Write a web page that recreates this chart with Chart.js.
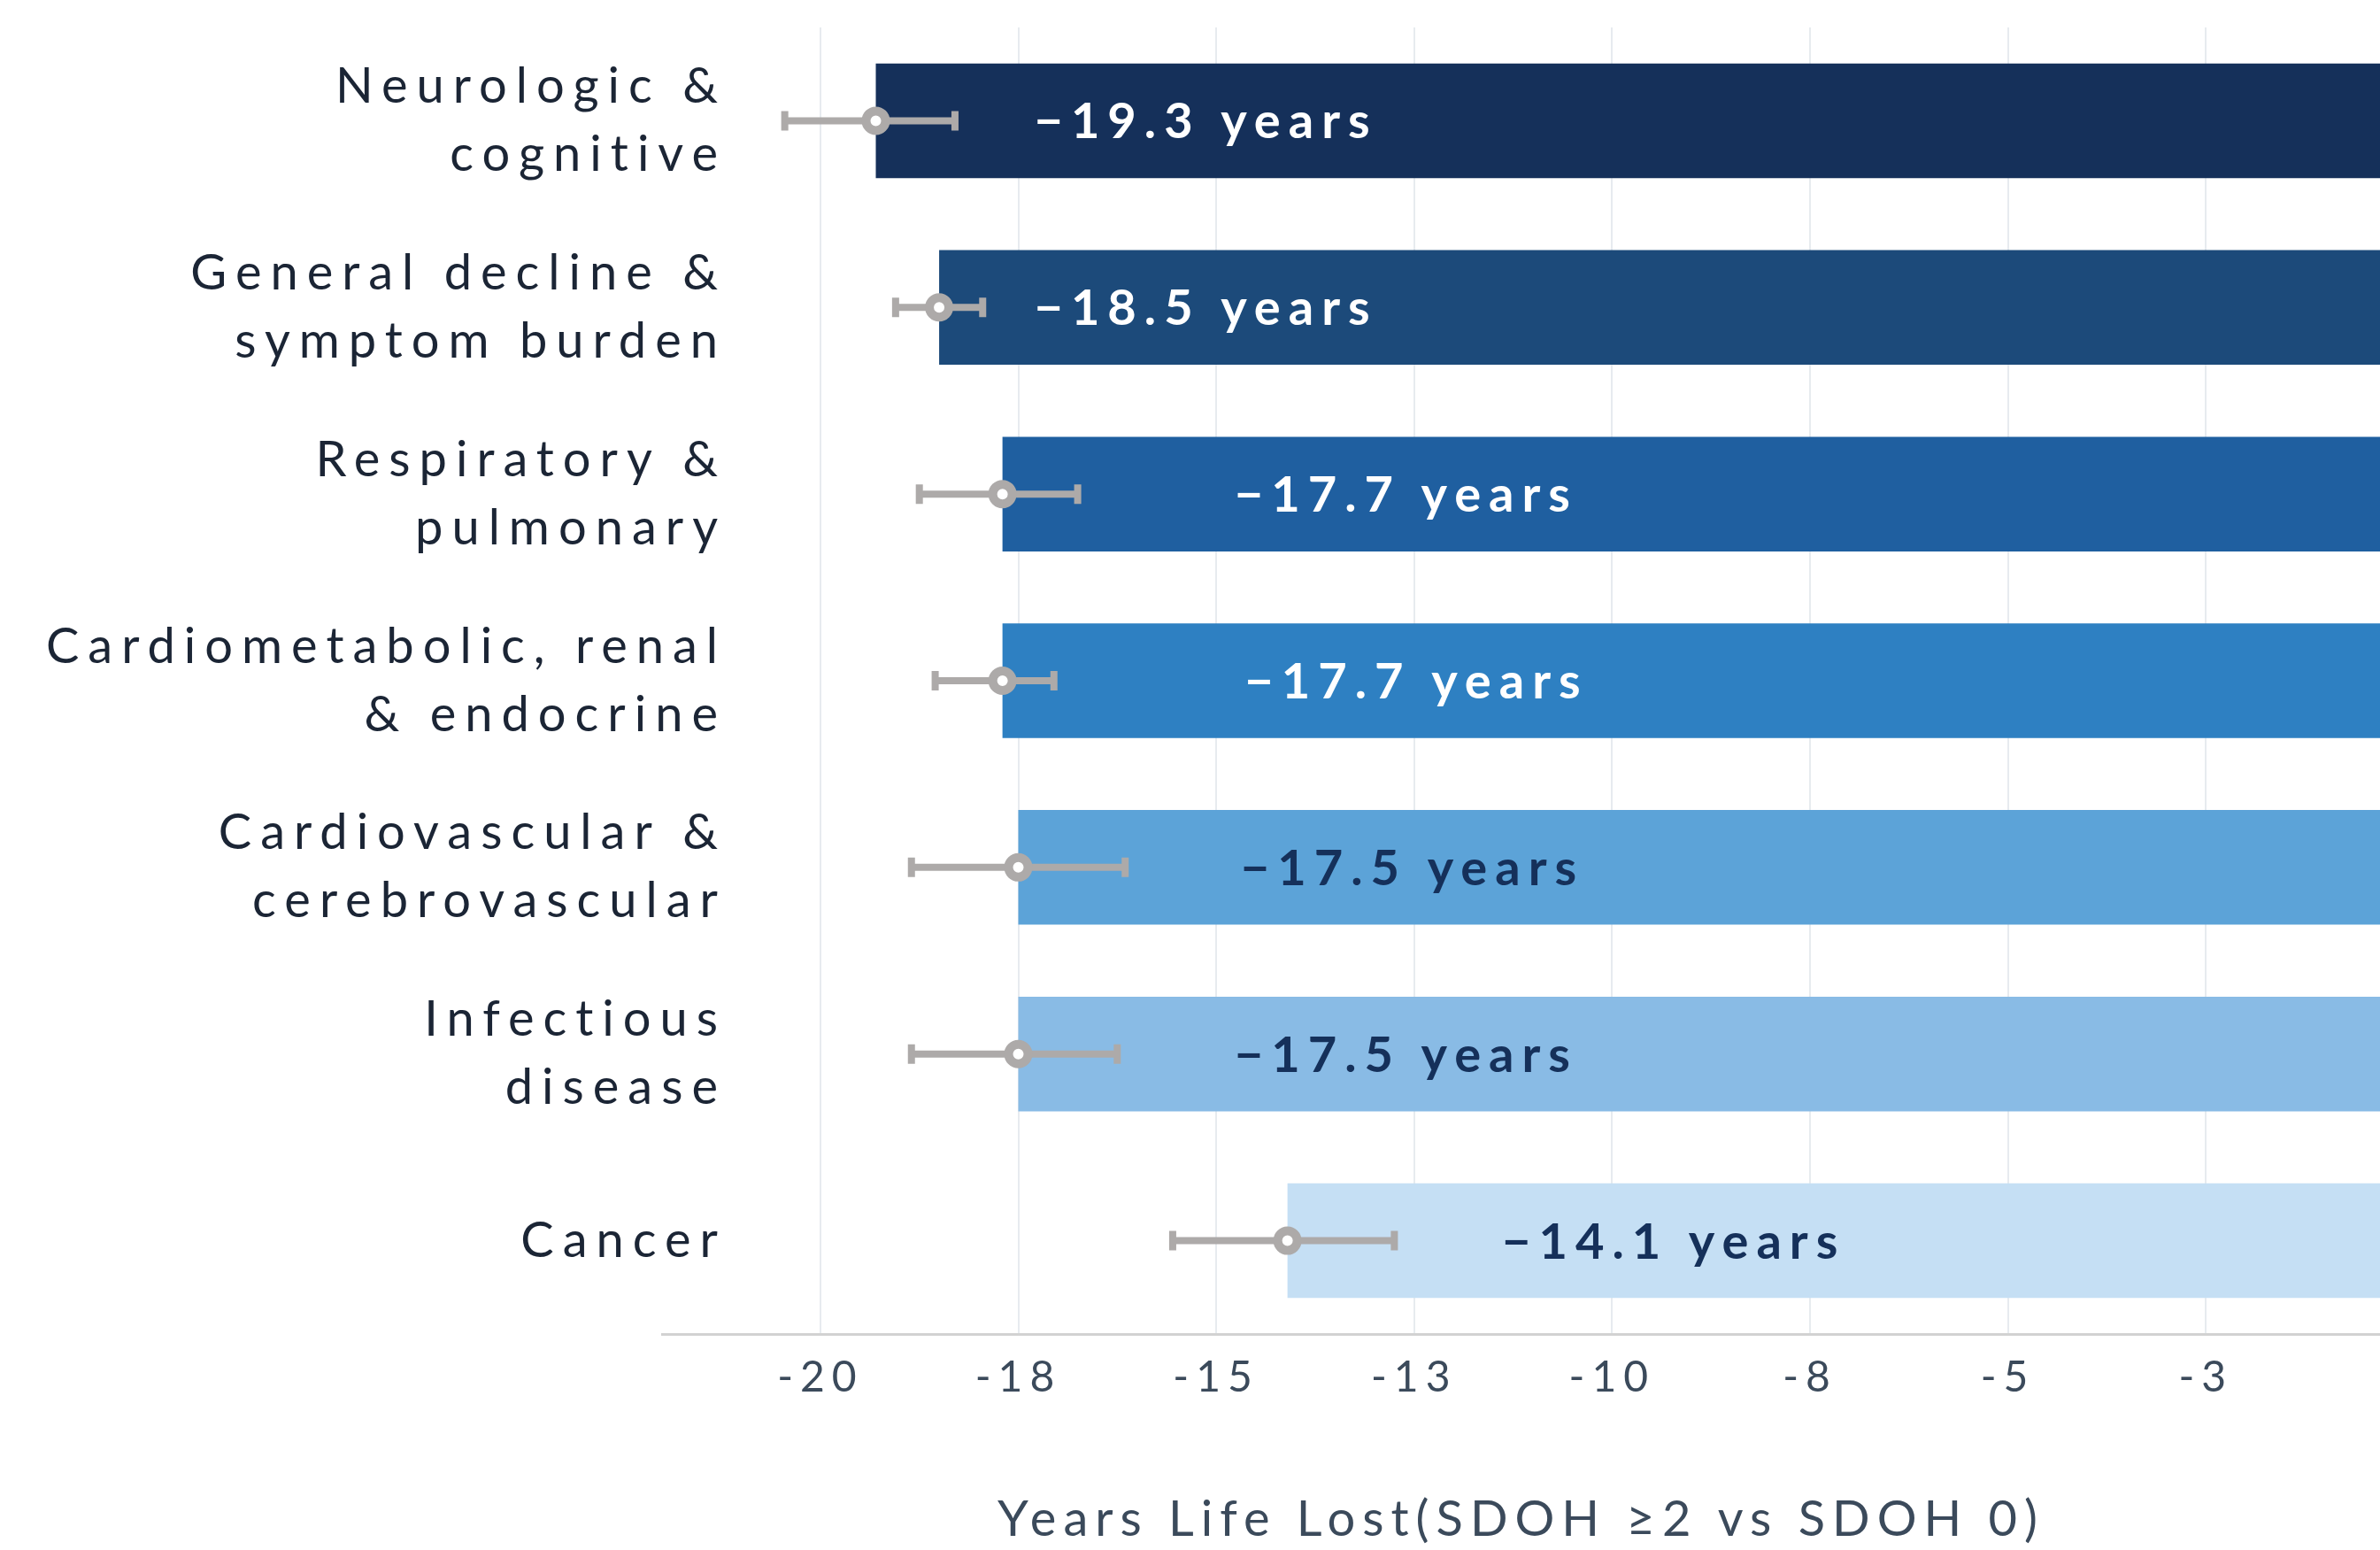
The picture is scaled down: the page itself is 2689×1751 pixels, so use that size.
<!DOCTYPE html>
<html>
<head>
<meta charset="utf-8">
<title>Years of life lost by cause</title>
<script src="https://cdn.jsdelivr.net/npm/chart.js@4.4.1/dist/chart.umd.min.js"></script>
<style>
  html, body { margin:0; padding:0; background:#fff; }
  #wrap { width:2689px; height:1751px; }
</style>
</head>
<body>
<div id="wrap"><canvas id="chYll" width="2689" height="1751"></canvas></div>
<script>
// cause groups, top to bottom
const causes = [
  ['Neurologic &', 'cognitive'],
  ['General decline &', 'symptom burden'],
  ['Respiratory &', 'pulmonary'],
  ['Cardiometabolic, renal', '& endocrine'],
  ['Cardiovascular &', 'cerebrovascular'],
  ['Infectious', 'disease'],
  ['Cancer'],
];
const yearsLost = [-19.3, -18.5, -17.7, -17.7, -17.5, -17.5, -14.1];
const ciLow     = [-20.45, -19.05, -18.75, -18.55, -18.85, -18.85, -15.55];
const ciHigh    = [-18.3, -17.95, -16.75, -17.05, -16.15, -16.25, -12.75];
const xTicks    = [-20, -17.5, -15, -12.5, -10, -7.5, -5, -2.5];

const barColors   = ['#15305a','#1c4a7a','#1f5fa0','#2e80c2','#5ca3d8','#89bbe5','#c5dff4'];
const labelColors = ['#ffffff','#ffffff','#ffffff','#ffffff','#15305a','#15305a','#15305a'];
const GREY = '#adaaa9';

// canvas text has no css letter-spacing; wrap a scale's draw so its text gets some
const spaced = px => s => {
  const base = Object.getPrototypeOf(s).draw;
  s.draw = function (area) {
    this.ctx.save(); this.ctx.letterSpacing = px;
    base.call(this, area);
    this.ctx.restore();
  };
};

// confidence interval whiskers, drawn over the bars but under the markers
const whiskers = {
  id: 'whiskers',
  afterDatasetDraw(chart, args, o) {
    if (args.index !== 1) return;
    const { ctx, scales: { x, y } } = chart;
    ctx.save();
    ctx.strokeStyle = o.color; ctx.lineWidth = o.width;
    ciLow.forEach((lo, i) => {
      const yp = y.getPixelForValue(i);
      const x0 = x.getPixelForValue(lo), x1 = x.getPixelForValue(ciHigh[i]);
      ctx.beginPath();
      ctx.moveTo(x0, yp); ctx.lineTo(x1, yp);
      ctx.moveTo(x0, yp - o.cap); ctx.lineTo(x0, yp + o.cap);
      ctx.moveTo(x1, yp - o.cap); ctx.lineTo(x1, yp + o.cap);
      ctx.stroke();
    });
    ctx.restore();
  }
};

const valueLabels = {
  id: 'valueLabels',
  afterDatasetsDraw(chart, args, o) {
    const { ctx, scales: { x, y } } = chart;
    ctx.save();
    ctx.font = o.font; ctx.letterSpacing = o.px;
    ctx.textBaseline = 'middle'; ctx.textAlign = 'left';
    yearsLost.forEach((v, i) => {
      ctx.fillStyle = labelColors[i];
      ctx.fillText('\u2212' + Math.abs(v).toFixed(1) + ' years', x.getPixelForValue(o.at[i]), y.getPixelForValue(i) + o.dy);
    });
    ctx.restore();
  }
};

const spaceX = spaced('8px'), spaceY = spaced('10px');

new Chart(document.getElementById('chYll'), {
  type: 'bar',
  data: {
    labels: causes,
    datasets: [
      { type:'line', indexAxis:'y', data: yearsLost, showLine:false,
        pointRadius:11, pointHoverRadius:11, pointBorderWidth:10, pointHoverBorderWidth:10,
        pointBackgroundColor:'#fff', pointBorderColor:GREY },
      { type:'bar', indexAxis:'y', data: yearsLost, backgroundColor: barColors,
        borderWidth:0, barPercentage:0.614, categoryPercentage:1 },
    ]
  },
  options: {
    indexAxis:'y', responsive:false, animation:false, devicePixelRatio:1,
    layout:{ autoPadding:false, padding:{ top:31, left:0, right:0, bottom:0 } },
    plugins:{
      legend:{ display:false }, tooltip:{ enabled:false },
      whiskers:{ color:GREY, width:8, cap:11 },
      valueLabels:{ font:'bold 56px Lato', px:'9px', dy:2,
        at:[-17.30, -17.30, -14.77, -14.64, -14.69, -14.77, -11.39] },
    },
    scales:{
      x:{ type:'linear', min:-22, max:-0.3,
        afterBuildTicks: s => { s.ticks = xTicks.map(v => ({ value:v })); },
        afterFit: s => { s.height = 244; s.paddingLeft = 0; s.paddingRight = 0; spaceX(s); },
        grid:{ color:'#e7ebef', lineWidth:2, drawTicks:false },
        border:{ color:'#d2d2d2', width:3 },
        ticks:{ padding:21, color:'#3b4a5b', font:{ family:'Lato', size:48 }, callback: v => Number(v).toFixed(0) },
        title:{ display:true, text:'Years Life Lost(SDOH \u22652 vs SDOH 0)', color:'#3b4a5b',
          font:{ family:'Lato', size:56 }, padding:{ top:0, bottom:0 } } },
      y:{ type:'category',
        // labels run into the plot area, so skip the label clip
        afterFit: s => { s.width = 748; s._computeLabelArea = () => undefined; spaceY(s); },
        grid:{ display:false, drawTicks:false }, border:{ display:false },
        ticks:{ padding:-73, color:'#1b2535', font:{ family:'Lato', size:56, lineHeight:1.375 } } },
    }
  },
  plugins:[whiskers, valueLabels]
});
</script>
</body>
</html>
